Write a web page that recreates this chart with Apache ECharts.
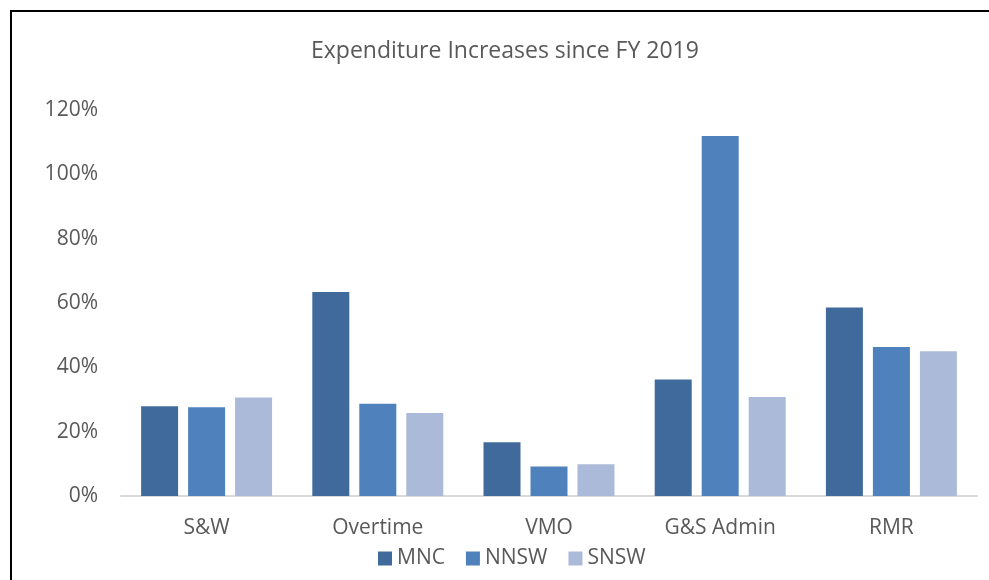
<!DOCTYPE html>
<html>
<head>
<meta charset="utf-8">
<script src="https://cdn.jsdelivr.net/npm/echarts@6/dist/echarts.min.js"></script>
<style>
  html, body { margin: 0; padding: 0; background: #fff; }
  #chart { width: 989px; height: 580px; }
</style>
</head>
<body>
<div id="chart"></div>
<script>
// Expenditure increases since FY 2019, by cost line and region
const categories = ['S&W', 'Overtime', 'VMO', 'G&S Admin', 'RMR'];
const seriesNames = ['MNC', 'NNSW', 'SNSW'];
const mnc  = [0.279, 0.634, 0.167, 0.362, 0.586];
const nnsw = [0.276, 0.287, 0.092, 1.119, 0.463];
const snsw = [0.306, 0.258, 0.099, 0.308, 0.450];
const yTicks = [0, 0.2, 0.4, 0.6, 0.8, 1.0, 1.2];

const colors = ['#416a9c', '#4f81bd', '#abbad8'];
const textColor = '#595959';
const font = 'Open Sans';

const chart = echarts.init(document.getElementById('chart'), null, { renderer: 'canvas' });

chart.setOption({
  animation: false,
  backgroundColor: '#fff',
  textStyle: { fontFamily: font },
  title: {
    text: 'Expenditure Increases since FY 2019',
    left: 306,
    top: 35,
    textStyle: { fontFamily: font, fontSize: 23, fontWeight: 'normal', color: textColor }
  },
  // frame around the chart area
  graphic: [{
    type: 'rect',
    shape: { x: 11, y: 11, width: 1000, height: 600 },
    style: { fill: 'none', stroke: '#000', lineWidth: 2 },
    silent: true
  }],
  legend: {
    data: seriesNames,
    bottom: 6,
    left: 373,
    itemWidth: 14,
    itemHeight: 14,
    itemGap: 21,
    icon: 'rect',
    textStyle: { fontFamily: font, fontSize: 21, color: textColor }
  },
  grid: { left: 121, right: 12, top: 110, bottom: 84 },
  xAxis: {
    type: 'category',
    data: categories,
    axisLine: { lineStyle: { color: '#d9d9d9', width: 2 } },
    axisTick: { show: false },
    axisLabel: { fontFamily: font, fontSize: 21, color: textColor, margin: 22 }
  },
  yAxis: {
    type: 'value',
    min: yTicks[0],
    max: yTicks[yTicks.length - 1],
    interval: 0.2,
    axisLine: { show: false },
    axisTick: { show: false },
    splitLine: { show: false },
    axisLabel: {
      fontFamily: font, fontSize: 21, color: textColor, margin: 23,
      formatter: v => Math.round(v * 100) + '%'
    }
  },
  series: [mnc, nnsw, snsw].map((d, i) => ({
    name: seriesNames[i],
    type: 'bar',
    data: d,
    barWidth: 37,
    barGap: '27%',
    itemStyle: { color: colors[i] }
  }))
});
</script>
</body>
</html>
